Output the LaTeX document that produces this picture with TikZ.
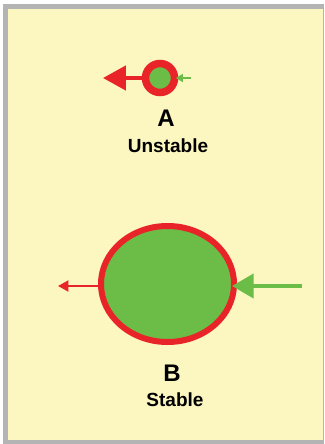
\documentclass[tikz,border=0pt]{standalone}
\usepackage{fontspec}
\setmainfont{Liberation Sans}
\usetikzlibrary{arrows.meta,shapes.geometric}
\definecolor{paper}{RGB}{252,246,192}
\definecolor{frame}{RGB}{180,180,180}
\definecolor{ringred}{RGB}{232,36,40}
\definecolor{cellgreen}{RGB}{108,188,72}
\tikzset{
  ring/.style={ellipse, draw=ringred, fill=cellgreen, inner sep=0pt},
  redarrow/.style={draw=ringred, -{Triangle[length=#1*1.9pt, width=#1*2pt]}},
  greenarrow/.style={draw=cellgreen, -{Triangle[length=#1*1.8pt, width=#1*2pt]}},
  letter/.style={anchor=base, font=\fontsize{24}{24}\selectfont\bfseries},
  caption/.style={anchor=base, font=\fontsize{19}{19}\selectfont\bfseries},
}
\begin{document}
\begin{tikzpicture}[x=1pt, y=-1pt]
  % canvas, grey frame and paper
  \fill[white] (0,0) rectangle (324,444);
  \useasboundingbox (0,0) rectangle (324,444);
  \fill[frame] (3,4) rectangle (324,444);
  \fill[paper] (8,9) rectangle (323,440);

  % A: small unstable bubble
  \node[ring, line width=7.5pt, minimum size=29pt] (A) at (160,78) {};
  \coordinate (aL) at (103,78);
  \coordinate (aR) at (191,78);
  \draw[redarrow=12, line width=4pt] (A.west) -- (aL);
  \draw[greenarrow=4, line width=2pt] (aR) -- ([xshift=-2.5pt]A.east);
  \node[letter] (Atxt) at (166,126) {A};
  \node[caption] (Acap) at (168,152) {Unstable};

  % B: large stable bubble
  \node[ring, line width=6pt, minimum width=133pt, minimum height=116pt] (B) at (167.5,284) {};
  \coordinate (bL) at (58,286);
  \coordinate (bR) at (302,286);
  \draw[redarrow=5.5, line width=2pt] (B.west |- bL) -- (bL);
  \draw[greenarrow=12, line width=4pt] (bR) -- ([xshift=-5pt]B.east |- bR);
  \node[letter] (Btxt) at (172,381) {B};
  \node[caption] (Bcap) at (175,406) {Stable};
\end{tikzpicture}
\end{document}
